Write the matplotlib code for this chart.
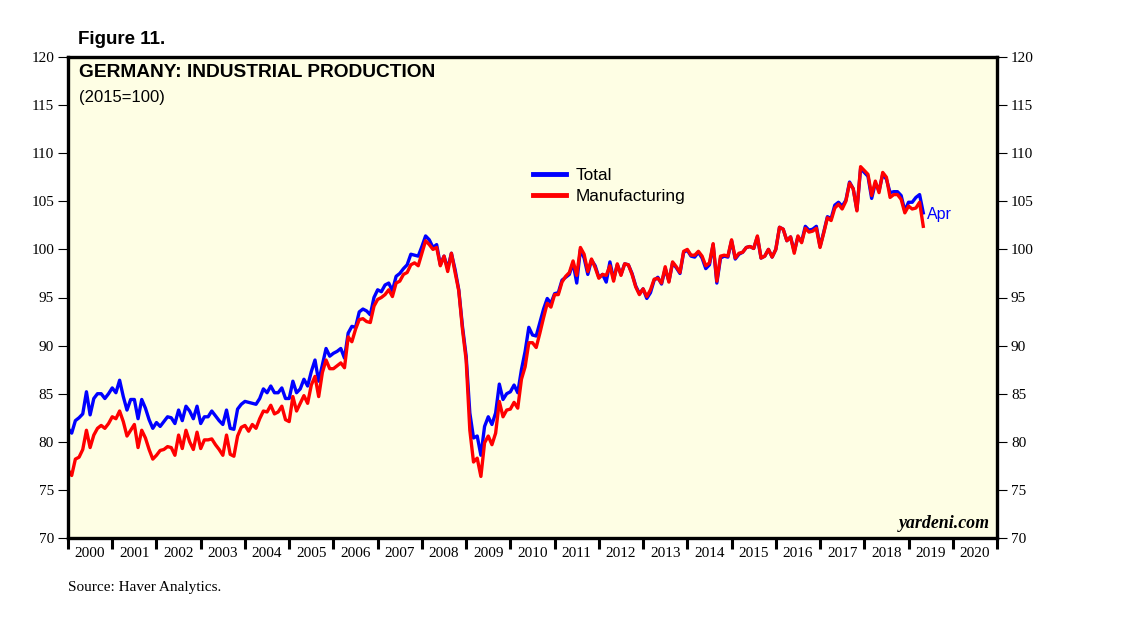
import matplotlib
matplotlib.use('Agg')
from matplotlib import pyplot as plt
import numpy as np

# monthly values, Dec 1999 .. Apr 2019 (plotted at month end)
total = [
    81.4, 80.9, 82.2, 82.5, 82.9, 85.2, 82.8, 84.5, 85.0, 85.0, 84.5, 85.0,
    85.6, 85.1, 86.4, 84.7, 83.3, 84.4, 84.4, 82.4, 84.4, 83.5, 82.3, 81.4,
    82.0, 81.6, 82.1, 82.6, 82.5, 81.9, 83.3, 82.2, 83.7, 83.2, 82.4, 83.7,
    81.9, 82.6, 82.6, 83.2, 82.7, 82.2, 81.8, 83.3, 81.4, 81.3, 83.4, 83.9,
    84.2, 84.1, 84.0, 83.9, 84.5, 85.5, 85.1, 85.8, 85.1, 85.1, 85.6, 84.5,
    84.5, 86.3, 85.1, 85.5, 86.5, 85.8, 87.3, 88.5, 86.3, 88.0, 89.7, 88.9,
    89.2, 89.4, 89.7, 88.7, 91.3, 92.0, 91.9, 93.5, 93.8, 93.6, 93.2, 95.0,
    95.8, 95.6, 96.3, 96.5, 95.7, 97.2, 97.5, 98.0, 98.4, 99.5, 99.4, 99.3,
    100.3, 101.4, 101.0, 100.2, 100.5, 98.4, 99.3, 98.0, 99.6, 97.9, 95.8, 92.0,
    88.9, 83.0, 80.4, 80.6, 78.6, 81.6, 82.6, 81.8, 83.0, 86.0, 84.4, 85.0,
    85.2, 85.9, 85.1, 87.5, 89.4, 91.9, 91.1, 91.0, 92.4, 93.8, 94.9, 94.4,
    95.4, 95.5, 96.8, 97.1, 97.4, 98.6, 96.5, 100.0, 99.1, 97.4, 98.9, 98.3,
    97.1, 97.4, 96.6, 98.7, 96.9, 98.4, 97.4, 98.5, 98.4, 97.5, 96.2, 95.4,
    95.9, 94.9, 95.5, 96.8, 97.1, 96.4, 98.0, 96.7, 98.6, 98.1, 97.5, 99.7,
    99.9, 99.3, 99.2, 99.7, 99.1, 98.0, 98.4, 100.5, 96.5, 99.1, 99.3, 99.2,
    100.9, 99.0, 99.5, 99.7, 100.2, 100.3, 100.1, 101.3, 99.1, 99.3, 100.0, 99.2,
    100.0, 102.3, 102.1, 100.9, 101.3, 99.8, 101.3, 100.8, 102.4, 102.0, 102.1, 102.4,
    100.3, 101.8, 103.4, 103.2, 104.6, 104.9, 104.5, 105.1, 107.0, 106.3, 104.1, 108.4,
    108.0, 107.6, 105.3, 106.9, 106.1, 107.8, 107.3, 105.9, 106.0, 106.0, 105.6, 104.0,
    104.9, 104.9, 105.4, 105.7, 103.8,
]

manufacturing = [
    77.1, 76.5, 78.2, 78.4, 79.2, 81.2, 79.4, 80.7, 81.4, 81.7, 81.4, 81.9,
    82.6, 82.4, 83.2, 82.1, 80.6, 81.2, 81.8, 79.4, 81.2, 80.4, 79.2, 78.2,
    78.6, 79.1, 79.2, 79.5, 79.4, 78.6, 80.7, 79.3, 81.2, 80.0, 79.2, 81.0,
    79.3, 80.2, 80.2, 80.3, 79.7, 79.2, 78.6, 80.7, 78.7, 78.5, 80.6, 81.5,
    81.7, 81.1, 81.8, 81.4, 82.4, 83.2, 83.1, 83.8, 82.9, 83.1, 83.7, 82.3,
    82.1, 84.7, 83.2, 84.0, 84.8, 84.0, 85.9, 86.8, 84.7, 87.2, 88.5, 87.6,
    87.6, 87.9, 88.2, 87.7, 90.9, 90.4, 91.7, 92.7, 92.8, 92.5, 92.4, 94.1,
    94.8, 95.0, 95.3, 95.8, 95.1, 96.5, 96.7, 97.4, 97.6, 98.4, 98.6, 98.3,
    99.6, 100.9, 100.5, 100.0, 100.2, 98.3, 99.3, 97.7, 99.6, 97.6, 95.7, 91.7,
    88.5, 81.2, 77.9, 78.3, 76.4, 79.9, 80.6, 79.7, 80.9, 84.2, 82.6, 83.3,
    83.4, 84.1, 83.5, 86.5, 87.8, 90.3, 90.3, 89.8, 91.3, 92.9, 94.4, 94.0,
    95.3, 95.3, 96.6, 97.2, 97.6, 98.8, 97.3, 100.2, 99.5, 97.7, 99.0, 98.1,
    97.0, 97.4, 97.3, 98.3, 96.7, 98.5, 97.3, 98.5, 98.4, 97.4, 96.1, 95.3,
    95.9, 95.1, 95.8, 96.9, 97.0, 96.5, 98.2, 96.6, 98.7, 98.2, 97.6, 99.8,
    100.0, 99.4, 99.4, 99.8, 99.3, 98.3, 98.6, 100.6, 96.7, 99.3, 99.4, 99.3,
    101.0, 99.1, 99.6, 99.7, 100.2, 100.3, 100.1, 101.4, 99.1, 99.3, 100.0, 99.2,
    100.0, 102.3, 102.1, 100.9, 101.3, 99.6, 101.4, 100.7, 102.2, 101.8, 101.9, 102.2,
    100.2, 101.7, 103.3, 103.0, 104.3, 104.7, 104.2, 105.0, 106.9, 106.3, 104.0, 108.6,
    108.2, 107.8, 105.6, 107.1, 105.9, 108.0, 107.5, 105.4, 105.7, 105.7, 105.2, 103.8,
    104.5, 104.2, 104.3, 104.9, 102.4,
]

years = list(range(2000, 2021))

x = 2000 + np.arange(len(total)) / 12

sans = ['Liberation Sans', 'DejaVu Sans']
serif = ['Liberation Serif', 'DejaVu Serif']

fig = plt.figure(figsize=(11.38, 6.21), dpi=100)
ax = fig.add_axes([68 / 1138, 1 - 538 / 621, 929 / 1138, 481 / 621])
ax.set_facecolor('#fefee4')

ax.plot(x, total, color='#0000ff', lw=2.4, label='Total', solid_joinstyle='round')
ax.plot(x, manufacturing, color='#ff0000', lw=2.4, label='Manufacturing', solid_joinstyle='round')

ax.set_xlim(2000, 2021)
ax.set_ylim(70, 120)

for s in ax.spines.values():
    s.set_linewidth(2.4)

# y axis on both sides
ax.set_yticks(np.arange(70, 121, 5))
ax.tick_params(axis='y', which='major', direction='out', length=7, width=0.8,
               left=True, right=True, labelleft=True, labelright=True,
               labelsize=11, pad=3)
for lab in ax.get_yticklabels():
    lab.set_family(serif)

# year ticks at boundaries, labels in between
ax.set_xticks(np.arange(2000, 2022, 1))
ax.set_xticklabels([])
ax.set_xticks(np.arange(2000.5, 2021, 1), minor=True)
ax.set_xticklabels([str(y) for y in years], minor=True, family=serif, fontsize=11)
ax.tick_params(axis='x', which='major', direction='out', length=8, width=2.2)
ax.tick_params(axis='x', which='minor', length=0, pad=6.5)

leg = ax.legend(loc='upper left', bbox_to_anchor=(0.493, 0.783), frameon=False,
                prop={'family': sans, 'size': 12.4}, handlelength=1.9,
                handletextpad=0.6, labelspacing=0.35, borderaxespad=0)
for h in leg.get_lines():
    h.set_linewidth(3.5)

ax.annotate('Apr', xy=(x[-1], total[-1]), xytext=(3, -1.5), textcoords='offset points',
            color='#0000ff', fontsize=11.5, family=sans, va='center', ha='left')

ax.text(0.012, 0.985, 'GERMANY: INDUSTRIAL PRODUCTION', transform=ax.transAxes,
        fontsize=13.8, fontweight='bold', family=sans, va='top', ha='left')
ax.text(0.012, 0.932, '(2015=100)', transform=ax.transAxes,
        fontsize=12, family=sans, va='top', ha='left')
ax.text(0.992, 0.012, 'yardeni.com', transform=ax.transAxes, fontsize=12.9,
        fontweight='bold', fontstyle='italic', family=serif, ha='right', va='bottom')

fig.text(78 / 1138, 1 - 39 / 621, 'Figure 11.', fontsize=13.5, fontweight='bold',
         family=sans, va='center', ha='left')
fig.text(68 / 1138, 1 - 587 / 621, 'Source: Haver Analytics.', fontsize=11,
         family=serif, va='center', ha='left')

fig.savefig('out.png', dpi=100, facecolor='white')
